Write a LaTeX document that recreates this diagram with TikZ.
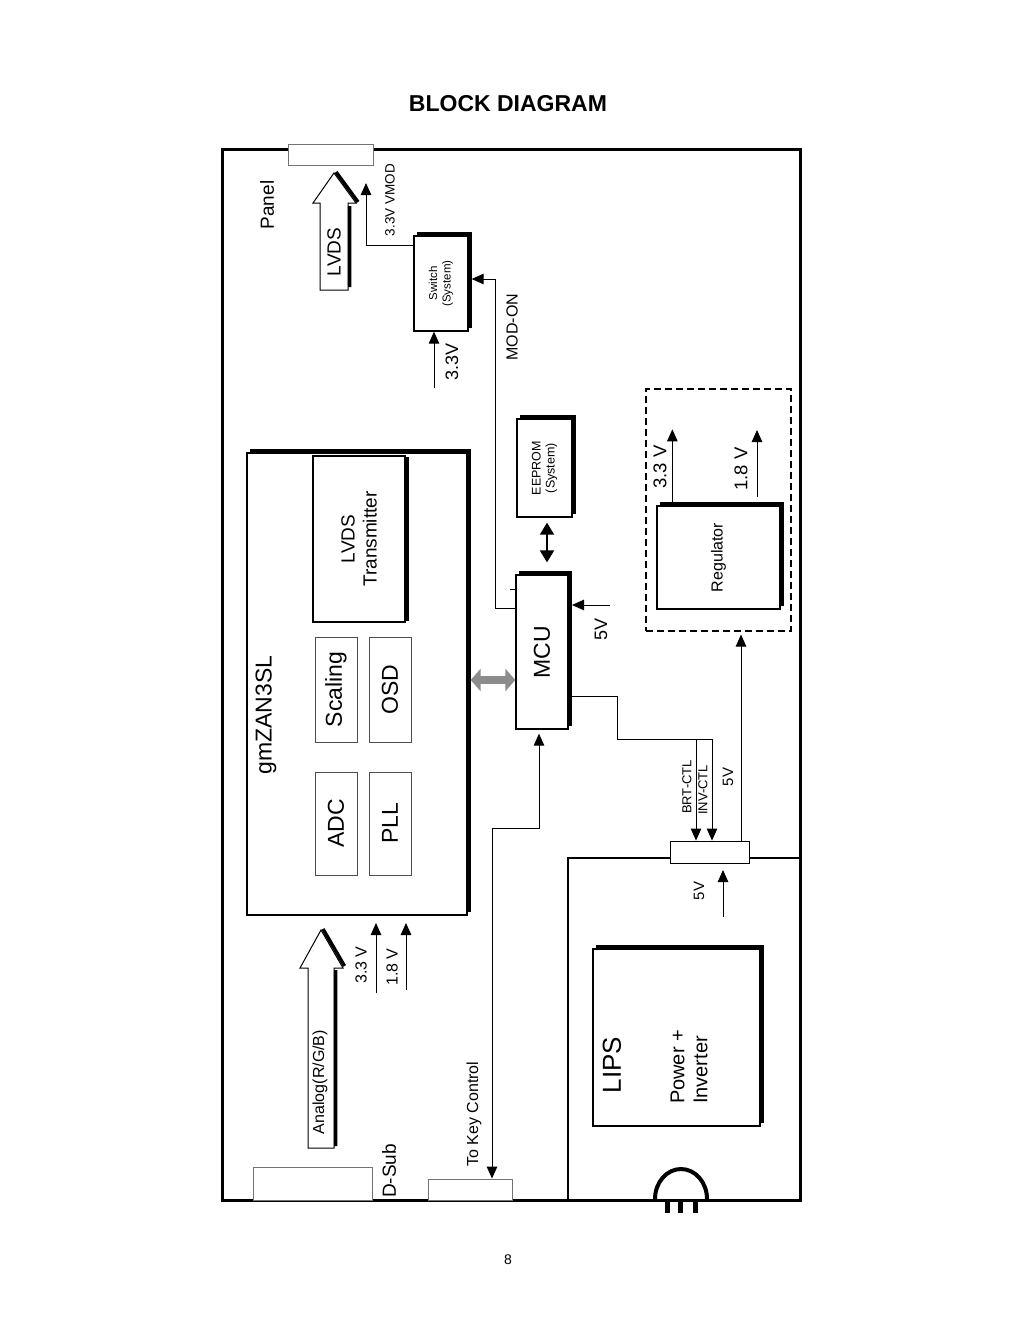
\documentclass[tikz,border=0pt]{standalone}
\usepackage{fontspec}
\setmainfont{Liberation Sans}
\usetikzlibrary{arrows.meta}

\newcommand{\dropshade}[1]{\draw[heavy] ([xshift=4pt,yshift=1.8pt]#1.north east) -- ([xshift=1.8pt,yshift=1.8pt]#1.south east) -- ([xshift=1.8pt,yshift=4pt]#1.south west);}

\begin{document}
\begin{tikzpicture}[x=1pt,y=-1pt,>={Triangle[length=12pt,width=10.5pt]},
    box/.style={draw,line width=1.3pt,fill=white,rotate=90,inner sep=0pt,align=center},
    part/.style={draw=black!70,line width=0.9pt,rotate=90,inner sep=0pt,font=\fontsize{23}{26}\selectfont},
    plug/.style={draw=black!55,line width=0.9pt,fill=white,inner sep=0pt},
    wire/.style={line width=1pt},
    feed/.style={wire,->},
    heavy/.style={line width=3.5pt},
    hollow/.style={draw,line width=1pt,fill=white,line join=miter},
    tag/.style={rotate=90,inner sep=0pt,align=left}]
\useasboundingbox (0,0) rectangle (1015,1322);

\node[font=\bfseries\fontsize{23}{26}\selectfont] (title) at (508,104) {BLOCK DIAGRAM};
\node[font=\fontsize{14}{16}\selectfont] (pagenum) at (508,1260) {8};

\node[draw,line width=3pt,minimum width=578pt,minimum height=1051pt,inner sep=0pt] (board) at (511,674.5) {};
\draw[line width=2.2pt] (568,1200) |- (800,858);
\node[draw,dashed,dash pattern=on 7pt off 4pt,line width=1.2pt,minimum width=145pt,minimum height=242pt,inner sep=0pt] (regzone) at (718.5,510) {};

\node[plug,minimum width=85pt,minimum height=21pt] (panelc) at (330.5,154.5) {};
\node[plug,minimum width=119pt,minimum height=33pt] (dsub) at (312.5,1183.5) {};
\node[plug,minimum width=84pt,minimum height=21pt] (key) at (470,1189.5) {};
\node[plug,draw=black,minimum width=79pt,minimum height=22pt] (invc) at (709.5,852) {};

\node[box,minimum width=95pt,minimum height=54pt,font=\fontsize{11.5}{13.5}\selectfont] (switch) at (441,283.5) {Switch\\(System)};
\node[box,minimum width=98pt,minimum height=55pt,font=\fontsize{12.5}{14}\selectfont] (eeprom) at (544.5,468) {EEPROM\\(System)};
\node[box,minimum width=154pt,minimum height=52pt,font=\fontsize{23}{26}\selectfont] (mcu) at (542,652) {MCU};
\node[box,minimum width=103pt,minimum height=123pt,font=\fontsize{16}{18}\selectfont] (reg) at (718.5,557.5) {Regulator};
\node[box,minimum width=462pt,minimum height=220pt] (gm) at (357,684) {};
\node[box,minimum width=166pt,minimum height=92pt,font=\fontsize{19}{22}\selectfont] (lvdstx) at (359,539) {LVDS\\Transmitter};
\node[box,minimum width=177pt,minimum height=167pt] (lips) at (676.5,1037.5) {};
\foreach \b in {switch,eeprom,mcu,reg,gm,lips} {\dropshade{\b}}
\draw[heavy] ([xshift=1.8pt,yshift=-2pt]lvdstx.south east) -- ([xshift=1.8pt,yshift=2pt]lvdstx.south west);

\node[part,minimum width=105pt,minimum height=42pt] (scaling) at (336,689.5) {Scaling};
\node[part,minimum width=105pt,minimum height=42pt] (osd) at (390,689.5) {OSD};
\node[part,minimum width=103pt,minimum height=42pt] (adc) at (336,823.5) {ADC};
\node[part,minimum width=103pt,minimum height=42pt] (pll) at (390,823.5) {PLL};

\node[tag,font=\fontsize{19}{22}\selectfont] (panel) at (267,205) {Panel};
\node[tag,font=\fontsize{23}{26}\selectfont] (gmlbl) at (266,715) {gmZAN3SL};
\node[tag,font=\fontsize{26}{30}\selectfont] (lipslbl) at (612,1065) {LIPS};
\node[tag,font=\fontsize{20}{23}\selectfont] (powerlbl) at (689,1067) {Power +\\Inverter};

\draw[hollow] (320,290) -- (320,203) -- (313,203) -- (334,173) -- (356,203) -- (348,203) -- (348,290) -- cycle;
\draw[heavy] (336,172) -- (358,202) (349.5,206) -- (349.5,287);
\node[tag,font=\fontsize{19}{22}\selectfont] (lvdsarrow) at (334,252) {LVDS};
\draw[hollow] (308,1148) -- (308,968) -- (300,968) -- (321,930) -- (343,968) -- (334,968) -- (334,1148) -- cycle;
\draw[heavy] (323,929) -- (344.5,966) (335.5,970) -- (335.5,1146);
\node[tag,font=\fontsize{16}{18}\selectfont] (analog) at (320,1082) {Analog(R/G/B)};

\coordinate (vmodtip) at (366,183);
\draw[feed] ([yshift=-10pt]switch.north east) -| (vmodtip);
\node[tag,font=\fontsize{13.5}{15}\selectfont] (vmodlbl) at (390,200) {3.3V VMOD};
\draw[feed] ([yshift=-34pt]mcu.north east) -- ++(-20,0) |- ([xshift=3pt,yshift=4.5pt]switch.south);
\draw[wire] ([yshift=-15pt]mcu.north east) -- ++(-5,0);
\node[tag,font=\fontsize{16}{18}\selectfont] (modon) at (512,327) {MOD-ON};
\coordinate (sw33) at (434,388);
\draw[feed] (sw33) -- (sw33 |- switch.west);
\node[tag,font=\fontsize{18}{20}\selectfont] (sw33lbl) at (452,362) {3.3V};

\draw[line width=2pt,{Triangle[length=12pt,width=14pt]}-{Triangle[length=12pt,width=14pt]}] ([xshift=2.5pt,yshift=-5pt]eeprom.west) -- ([xshift=5pt,yshift=12pt]mcu.east);
\coordinate (mcu5) at (610,605);
\draw[feed] (mcu5) -- ++(-38,0);
\node[tag,font=\fontsize{18}{20}\selectfont] (mcu5lbl) at (601,629) {5V};
\draw[line width=8pt,draw=black!45,{Triangle[length=10pt,width=22pt]}-{Triangle[length=10pt,width=22pt]}] ([xshift=3pt,yshift=4pt]gm.south) -- ([yshift=4pt]gm.south -| mcu.north);

\draw[feed] ([xshift=16pt]reg.north east) -- ++(0,-76);
\coordinate (reg18) at (757,497);
\draw[feed] (reg18) -- ++(0,-67);
\node[tag,font=\fontsize{18.5}{20}\selectfont] (reg33lbl) at (660,467) {3.3 V};
\node[tag,font=\fontsize{18.5}{20}\selectfont] (reg18lbl) at (741,469) {1.8 V};

\coordinate (ctl) at (712,739);
\coordinate (brt) at (696,739);
\draw[wire] ([yshift=-44pt]mcu.south) -| ([xshift=-95pt]ctl) -- (ctl);
\draw[feed] (brt) -- (brt |- invc.north);
\draw[feed] (ctl) -- (ctl |- invc.north);
\node[tag,font=\fontsize{13}{15}\selectfont] (brtlbl) at (687,787) {BRT-CTL};
\node[tag,font=\fontsize{13}{15}\selectfont] (invlbl) at (703,790) {INV-CTL};
\draw[feed] ([xshift=31.5pt]invc.north) -- ++(0,-206);
\node[tag,font=\fontsize{15}{17}\selectfont] (conn5lbl) at (728,777) {5V};

\coordinate (kc) at (539,828);
\draw[wire,<->] ([xshift=22pt]key.north) |- (kc) -- ([xshift=-3pt,yshift=-4pt]mcu.west);
\node[tag,font=\fontsize{16}{18}\selectfont] (keylbl) at (474,1114) {To Key Control};
\node[tag,font=\fontsize{19}{22}\selectfont] (dsublbl) at (389,1171) {D-Sub};

\coordinate (gm33) at (376,993);
\coordinate (gm18) at (406,990);
\draw[feed] (gm33) -- ++(0,-70);
\draw[feed] (gm18) -- ++(0,-67);
\node[tag,font=\fontsize{16}{18}\selectfont] (gm33lbl) at (361,965) {3.3 V};
\node[tag,font=\fontsize{16}{18}\selectfont] (gm18lbl) at (392,967) {1.8 V};

\coordinate (lips5) at (723,917);
\draw[feed] (lips5) -- ++(0,-47);
\node[tag,font=\fontsize{15}{17}\selectfont] (lips5lbl) at (699,891) {5V};

\draw[line width=4pt] (655,1199) arc[start angle=180,end angle=360,x radius=26,y radius=30];
\foreach \p in {667.5,680.5,695.5} \draw[line width=5pt] (\p,1199) -- (\p,1213);
\end{tikzpicture}
\end{document}
